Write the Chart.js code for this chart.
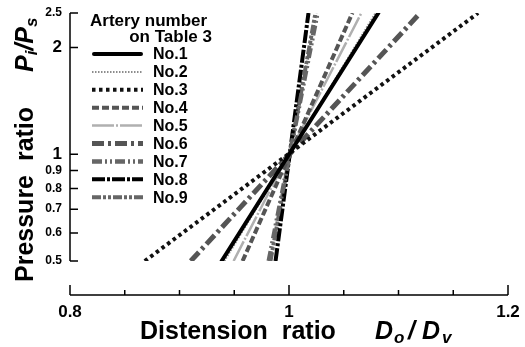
<!DOCTYPE html>
<html>
<head>
<meta charset="utf-8">
<script src="https://cdn.jsdelivr.net/npm/chart.js@4.4.0/dist/chart.umd.min.js"></script>
<style>
  html, body { margin: 0; padding: 0; background: #fff; }
</style>
</head>
<body>
<canvas id="c" width="525" height="347"></canvas>
<script>
const FONT = '"Liberation Sans", Arial, Helvetica, sans-serif';

// data: each line runs from P = 0.5 to P = 2.5
const seriesNames = ['No.1', 'No.2', 'No.3', 'No.4', 'No.5', 'No.6', 'No.7', 'No.8', 'No.9'];
const yEnds = [0.5, 2.5];
const xAtLow = [0.9385, 0.9410, 0.8683, 0.9576, 0.9494, 0.9103, 0.9815, 0.9877, 0.9831];
const xAtHigh = [1.0816, 1.0790, 1.1727, 1.0579, 1.0661, 1.1198, 1.0260, 1.0178, 1.0242];

const yTicks = [0.5, 0.6, 0.7, 0.8, 0.9, 1, 2, 2.5];
const yTickLabels = ['0.5', '0.6', '0.7', '0.8', '0.9', '1', '2', '2.5'];
const yBigTicks = [1, 2];
const xTicks = [0.8, 1, 1.2];
const xTickLabels = ['0.8', '1', '1.2'];
const xTickMarks = [0.8, 0.85, 0.9, 0.95, 1, 1.05, 1.1, 1.15, 1.2];

// line styles
const lineColors = ['#000', '#8c8c8c', '#111', '#555', '#b0b0b0', '#555', '#666', '#000', '#666'];
const lineWidths = [4, 2, 4, 4, 2.5, 5, 4.5, 4, 4];
const lineDashes = [[], [1.5, 1.5], [3.5, 3.5], [7, 3], [22, 2, 2, 2], [12, 4, 3, 4], [10, 3, 2, 3, 2, 3], [13, 2, 3, 2], [9, 2, 3, 2, 3, 2]];

const datasets = seriesNames.map((name, i) => ({
  label: name,
  data: yEnds.map((y, j) => ({ x: j ? xAtHigh[i] : xAtLow[i], y: y })),
  borderColor: lineColors[i],
  borderWidth: lineWidths[i],
  borderDash: lineDashes[i],
  borderCapStyle: i === 0 ? 'round' : 'butt',
  pointRadius: 0,
  tension: 0,
  fill: false
}));

// axis lines with inward ticks, x axis sits below the plot
const axesPlugin = {
  id: 'axes',
  afterDraw(chart) {
    const { ctx, chartArea, scales } = chart;
    ctx.save();
    ctx.strokeStyle = '#000';
    ctx.lineWidth = 1.5;
    ctx.beginPath();
    ctx.moveTo(chartArea.left, chartArea.top);
    ctx.lineTo(chartArea.left, chartArea.bottom);
    yTicks.forEach(v => {
      const y = scales.y.getPixelForValue(v);
      ctx.moveTo(chartArea.left, y);
      ctx.lineTo(chartArea.left + 8, y);
    });
    const xb = chartArea.bottom + 34;
    ctx.moveTo(scales.x.getPixelForValue(0.8), xb);
    ctx.lineTo(scales.x.getPixelForValue(1.2), xb);
    xTickMarks.forEach(v => {
      const x = scales.x.getPixelForValue(v);
      const len = xTicks.some(t => Math.abs(t - v) < 1e-9) ? 10 : 5;
      ctx.moveTo(x, xb);
      ctx.lineTo(x, xb - len);
    });
    ctx.stroke();
    ctx.restore();
  }
};

const legendPlugin = {
  id: 'innerLegend',
  afterDraw(chart) {
    const ctx = chart.ctx;
    ctx.save();
    ctx.fillStyle = '#000';
    ctx.font = 'bold 17px ' + FONT;
    ctx.textBaseline = 'alphabetic';
    ctx.textAlign = 'left';
    ctx.fillText('Artery number', 90, 26);
    ctx.textAlign = 'right';
    ctx.fillText('on Table 3', 212, 42);
    ctx.font = 'bold 16px ' + FONT;
    ctx.textAlign = 'left';
    ctx.textBaseline = 'middle';
    chart.data.datasets.forEach((ds, i) => {
      const y = 54 + i * 17.9;
      ctx.beginPath();
      ctx.strokeStyle = ds.borderColor;
      ctx.lineWidth = ds.borderWidth;
      ctx.lineCap = ds.borderCapStyle;
      ctx.setLineDash(ds.borderDash);
      ctx.moveTo(i === 0 ? 94 : 92, y);
      ctx.lineTo(i === 0 ? 141 : 143, y);
      ctx.stroke();
      ctx.setLineDash([]);
      ctx.fillText(ds.label, 153, y + 1);
    });
    ctx.restore();
  }
};

function drawRich(ctx, parts) {
  let x = 0;
  parts.forEach(p => {
    if (p.at !== undefined) x = p.at;
    ctx.font = p.font;
    ctx.fillText(p.t, x, p.dy || 0);
    x += ctx.measureText(p.t).width;
  });
}

const titlesPlugin = {
  id: 'titles',
  afterDraw(chart) {
    const ctx = chart.ctx;
    const b = 'bold 25px ' + FONT;
    const bi = 'italic bold 25px ' + FONT;
    const si = 'italic bold 17px ' + FONT;
    ctx.save();
    ctx.fillStyle = '#000';
    ctx.textBaseline = 'alphabetic';
    ctx.textAlign = 'left';
    // x title
    ctx.save();
    ctx.translate(140, 339);
    drawRich(ctx, [
      { t: 'Distension  ratio', font: b },
      { t: 'D', font: bi, at: 235 },
      { t: 'o', font: si, dy: 4, at: 254 },
      { t: '/', font: bi, at: 268 },
      { t: 'D', font: bi, at: 282 },
      { t: 'v', font: si, dy: 4, at: 302 }
    ]);
    ctx.restore();
    // y title
    ctx.save();
    ctx.translate(33, 282);
    ctx.rotate(-Math.PI / 2);
    drawRich(ctx, [
      { t: 'Pressure  ratio', font: b },
      { t: 'P', font: bi, at: 210 },
      { t: 'i', font: si, dy: 4 },
      { t: '/', font: bi },
      { t: 'P', font: bi },
      { t: 's', font: si, dy: 4 }
    ]);
    ctx.restore();
    ctx.restore();
  }
};

new Chart(document.getElementById('c'), {
  type: 'line',
  data: { datasets: datasets },
  options: {
    responsive: false,
    animation: false,
    devicePixelRatio: 1,
    layout: { padding: { top: 13, right: 17, bottom: 0, left: 0 } },
    plugins: {
      legend: { display: false },
      tooltip: { enabled: false }
    },
    scales: {
      x: {
        type: 'linear',
        min: 0.8,
        max: 1.2,
        afterBuildTicks: s => { s.ticks = xTicks.map(v => ({ value: v })); },
        afterFit: s => { s.height = 86; s.paddingLeft = 0; s.paddingRight = 0; },
        grid: { display: false, drawTicks: false },
        border: { display: false },
        ticks: {
          padding: 41,
          color: '#000',
          maxRotation: 0,
          autoSkip: false,
          font: { family: FONT, size: 17, weight: 'bold' },
          callback: (v) => xTickLabels[xTicks.findIndex(t => Math.abs(t - v) < 1e-9)]
        }
      },
      y: {
        type: 'logarithmic',
        min: 0.5,
        max: 2.5,
        afterBuildTicks: s => { s.ticks = yTicks.map(v => ({ value: v })); },
        afterFit: s => { s.width = 70; s.paddingTop = 0; s.paddingBottom = 0; },
        grid: { display: false, drawTicks: false },
        border: { display: false },
        ticks: {
          padding: 8,
          color: '#000',
          autoSkip: false,
          font: c => ({ family: FONT, weight: 'bold', size: yBigTicks.includes(c.tick && c.tick.value) ? 17 : 12 }),
          callback: (v) => yTickLabels[yTicks.findIndex(t => Math.abs(t - v) < 1e-9)]
        }
      }
    }
  },
  plugins: [axesPlugin, legendPlugin, titlesPlugin]
});
</script>
</body>
</html>
